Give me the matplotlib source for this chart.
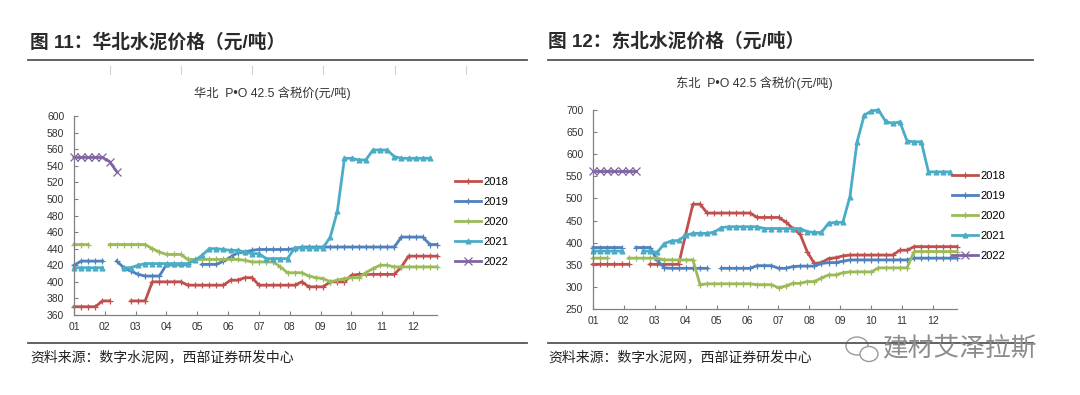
import matplotlib
matplotlib.use("Agg")
import matplotlib.pyplot as plt
from matplotlib.lines import Line2D
from matplotlib.patches import Ellipse
import numpy as np

plt.rcParams['font.family'] = ['Liberation Sans', 'Noto Sans CJK SC', 'DejaVu Sans']

N = np.nan

# 月份刻度和年份
months = ['01', '02', '03', '04', '05', '06', '07', '08', '09', '10', '11', '12']
years = ['2018', '2019', '2020', '2021', '2022']

# 华北 P.O 42.5 周度价格 (元/吨)
hb_2018 = [370] * 4 + [377] * 2 + [N] * 2 + [377] * 3 + [400] * 5 + [396] * 6 + [402] * 2 + [405] * 2 \
    + [396] * 6 + [400] + [394] * 3 + [400] * 3 + [408] + [409] * 6 + [418] + [431] * 5
hb_2019 = [420] + [425] * 4 + [N] + [425, 417, 413, 409] + [407] * 3 + [421] * 4 + [N] + [421] * 3 \
    + [425, 430, 435, 436, 438] + [439] * 5 + [440] + [442] * 14 + [454] * 4 + [445] * 2
hb_2020 = [445] * 3 + [N] * 2 + [445] * 6 + [440, 436] + [433] * 3 + [427] * 8 + [426] + [424] * 4 \
    + [418] + [411] * 3 + [407, 405, 404, 400, 402, 404, 405, 405, 411, 416, 420, 420] + [418] * 7
hb_2021 = [417] * 5 + [N] * 2 + [417] * 2 + [420] + [422] * 7 + [426, 432, 440, 440, 439, 438, 438, 436, 434, 434] \
    + [428] * 4 + [441] * 5 + [454, 485, 549, 549, 547, 547, 559, 559, 559, 551] + [549] * 5 + [N]
hb_2022 = [550] * 5 + [545, 533] + [N] * 45

# 东北 P.O 42.5 周度价格 (元/吨)
db_2018 = [351] * 6 + [N] * 2 + [351] * 5 + [420] + [487] * 2 + [467] * 7 + [457] * 4 \
    + [447, 432, 420, 380, 353, 355, 364, 366, 370] + [372] * 7 + [383] * 2 + [391] * 7
db_2019 = [389] * 5 + [N] + [389] * 3 + [360, 343] + [342] * 6 + [N] + [342] * 5 + [348] * 3 + [342] * 2 \
    + [346] + [347] * 3 + [353, 355, 355, 358] + [361] * 9 + [365] * 7
db_2020 = [365] * 3 + [N] * 2 + [365] * 5 + [361] * 5 + [305] + [307] * 7 + [305] * 3 + [298, 302, 308, 308, 312, 312, 320, 327, 327, 332] \
    + [334] * 4 + [343] * 5 + [380] * 7
db_2021 = [381] * 5 + [N] * 2 + [381, 381, 378, 398, 404, 405, 417, 421, 421, 421, 424, 434] + [436] * 5 + [432] * 6 \
    + [425, 423, 423, 444, 446, 446, 504, 628, 688, 698, 700, 674, 670, 673, 630, 628, 628] + [560] * 4 + [N]
db_2022 = [561] * 7 + [N] * 45

colors = ['#C0504D', '#4F81BD', '#9BBB59', '#4BACC6', '#8064A2']
markers = ['+', '+', '+', '^', 'x']
msizes = [4, 4, 4, 3.5, 6]

fig = plt.figure(figsize=(10.8, 3.95), dpi=100)


def draw_panel(rect, series, ylim, ystep, legend_xy):
    ax = fig.add_axes(rect)
    x = np.arange(52)
    for s, yr, c, m, ms in zip(series, years, colors, markers, msizes):
        ax.plot(x, s, color=c, lw=2, marker=m, ms=ms, mew=0.9, label=yr, clip_on=False)
    ax.set_xlim(0, 51)
    ax.set_ylim(*ylim)
    ax.set_yticks(np.arange(ylim[0], ylim[1] + 1, ystep))
    ax.set_xticks([i * 4.33 for i in range(12)])
    ax.set_xticklabels(months)
    for sp in ['top', 'right']:
        ax.spines[sp].set_visible(False)
    for sp in ['left', 'bottom']:
        ax.spines[sp].set_color('#808080')
        ax.spines[sp].set_linewidth(0.9)
    ax.tick_params(direction='in', length=3, color='#808080', labelsize=7.5, labelcolor='#333333')
    ax.tick_params(axis='y', pad=7)
    ax.tick_params(axis='x', pad=5)
    fig.legend(*ax.get_legend_handles_labels(), loc='center left', bbox_to_anchor=legend_xy,
               bbox_transform=fig.transFigure, frameon=False, fontsize=8, handlelength=2.3,
               handletextpad=0.3, labelspacing=0.9, borderpad=0, borderaxespad=0)
    return ax


draw_panel([74 / 1080, 1 - 315 / 395, 363 / 1080, 199 / 395],
           [hb_2018, hb_2019, hb_2020, hb_2021, hb_2022], (360, 600), 20, (455 / 1080, 1 - 222 / 395))
draw_panel([593 / 1080, 1 - 309 / 395, 364 / 1080, 199 / 395],
           [db_2018, db_2019, db_2020, db_2021, db_2022], (250, 700), 50, (952 / 1080, 1 - 216 / 395))

# 标题、分隔线、来源
fig.text(30 / 1080, 1 - 42 / 395, '图 11：华北水泥价格（元/吨）', fontsize=13.5, fontweight='bold',
         color='#2a2a2a', va='center', ha='left')
fig.text(548 / 1080, 1 - 42 / 395, '图 12：东北水泥价格（元/吨）', fontsize=13.5, fontweight='bold',
         color='#2a2a2a', va='center', ha='left')
fig.text(272 / 1080, 1 - 93 / 395, '华北  P•O 42.5 含税价(元/吨)', fontsize=8.8, color='#333333',
         va='center', ha='center')
fig.text(754 / 1080, 1 - 83 / 395, '东北  P•O 42.5 含税价(元/吨)', fontsize=8.8, color='#333333',
         va='center', ha='center')

for x0, x1 in [(28, 527), (548, 1033)]:
    for yy in [60, 343]:
        fig.add_artist(Line2D([x0 / 1080, x1 / 1080], [1 - yy / 395] * 2, color='#555555', lw=1.3))

for xx in [110, 181, 252, 323, 395, 466]:
    fig.add_artist(Line2D([xx / 1080] * 2, [1 - 66 / 395, 1 - 74 / 395], color='#d0d0d0', lw=0.8))

fig.text(30 / 1080, 1 - 357 / 395, '资料来源：数字水泥网，西部证券研发中心', fontsize=10, color='#222222',
         va='center', ha='left')
fig.text(548 / 1080, 1 - 357 / 395, '资料来源：数字水泥网，西部证券研发中心', fontsize=10, color='#222222',
         va='center', ha='left')

# 水印
fig.add_artist(Ellipse((857 / 1080, 1 - 346 / 395), 22 / 1080, 18 / 395, transform=fig.transFigure,
                       fill=False, ec='#9a9a9a', lw=1))
fig.add_artist(Ellipse((869 / 1080, 1 - 354 / 395), 18 / 1080, 15 / 395, transform=fig.transFigure,
                       fc='white', ec='#9a9a9a', lw=1))
fig.text(882 / 1080, 1 - 349 / 395, '建材艾泽拉斯', fontsize=18.5, color='#8c8c8c', va='center', ha='left')

fig.savefig('out.png', dpi=100)
